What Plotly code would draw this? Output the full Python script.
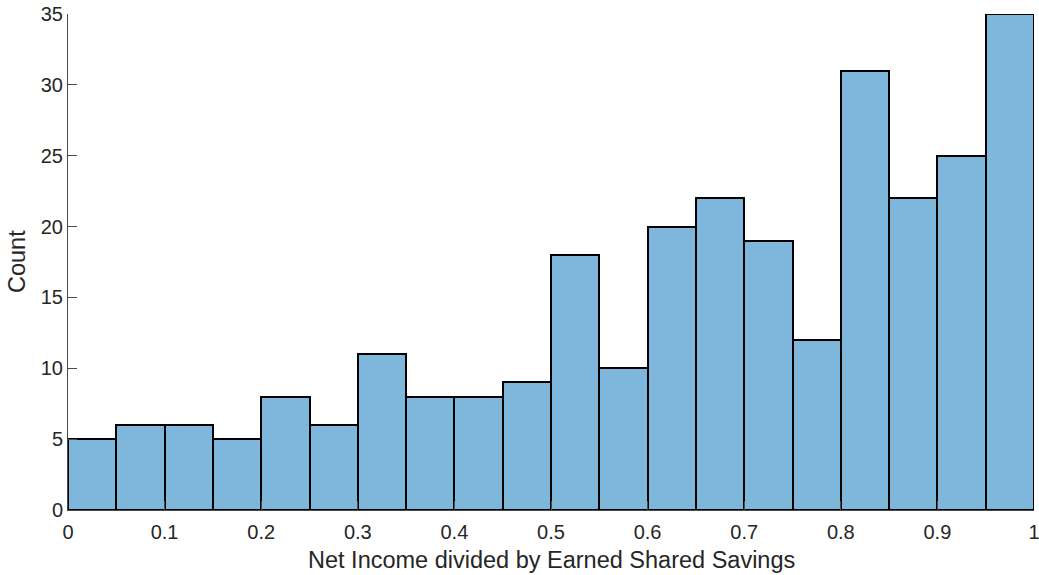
import plotly.graph_objects as go

bin_starts = [0.0, 0.05, 0.1, 0.15, 0.2, 0.25, 0.3, 0.35, 0.4, 0.45,
              0.5, 0.55, 0.6, 0.65, 0.7, 0.75, 0.8, 0.85, 0.9, 0.95]
counts = [5, 6, 6, 5, 8, 6, 11, 8, 8, 9, 18, 10, 20, 22, 19, 12, 31, 22, 25, 35]
bin_width = 0.05
x_ticks = [0, 0.1, 0.2, 0.3, 0.4, 0.5, 0.6, 0.7, 0.8, 0.9, 1]
x_tick_labels = ["0", "0.1", "0.2", "0.3", "0.4", "0.5", "0.6", "0.7", "0.8", "0.9", "1"]
y_ticks = [0, 5, 10, 15, 20, 25, 30, 35]
x_title = "Net Income divided by Earned Shared Savings"
y_title = "Count"

FONT = "Liberation Sans, Arial, sans-serif"
TXT = "#262626"

fig = go.Figure()
fig.add_trace(go.Bar(
    x=[s + bin_width / 2 for s in bin_starts],
    y=counts,
    width=bin_width,
    marker=dict(color="#7EB6DC", line=dict(color="black", width=2)),
    cliponaxis=False,
    hoverinfo="skip",
))

axis_common = dict(
    showgrid=False, zeroline=False, showline=True, linecolor="#4a4a4a", linewidth=1,
    ticks="inside", ticklen=9, tickcolor="#4a4a4a", automargin=False,
    ticklabeloverflow="allow",
    tickfont=dict(family=FONT, size=20, color=TXT),
)
fig.update_layout(
    width=1039, height=575,
    margin=dict(l=68, r=5, t=14, b=65, autoexpand=False),
    plot_bgcolor="white", paper_bgcolor="white",
    showlegend=False, bargap=0,
    xaxis=dict(range=[0, 1], tickvals=x_ticks, ticktext=x_tick_labels,
               ticklabelstandoff=4, **axis_common),
    yaxis=dict(range=[0, 35], tickvals=y_ticks, **axis_common),
    annotations=[
        dict(text=x_title, xref="paper", yref="paper", x=0.5, y=0,
             xanchor="center", yanchor="middle", yshift=-50, showarrow=False,
             font=dict(family=FONT, size=23.5, color=TXT)),
        dict(text=y_title, xref="paper", yref="paper", x=0, y=0.5,
             xanchor="center", yanchor="middle", xshift=-51, textangle=-90, showarrow=False,
             font=dict(family=FONT, size=23.5, color=TXT)),
    ],
)
fig.write_html("out.html", config={"displayModeBar": False},
               post_script="document.body.style.margin='0';document.body.style.overflow='hidden';")
